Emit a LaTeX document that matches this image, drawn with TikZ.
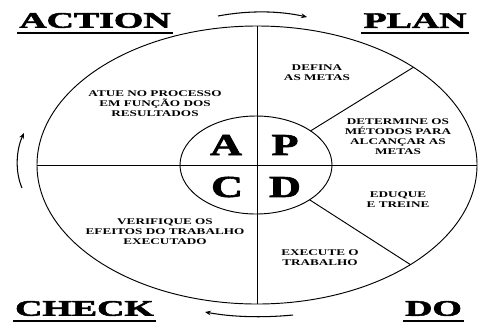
\documentclass[tikz,border=0pt]{standalone}
\usepackage{fontspec}
\setmainfont{Liberation Serif}
\newfontfamily\heavy[FakeBold=2]{Liberation Serif}
\usetikzlibrary{arrows.meta,shapes.geometric}

\begin{document}
\begin{tikzpicture}[x=0.03cm,y=-0.03cm,
  every node/.style={inner sep=0pt,outer sep=0pt},
  rim/.style={line width=0.8pt},
  title/.style={font=\heavy\bfseries\fontsize{19}{19}\selectfont,xscale=1.7},
  letter/.style={font=\heavy\bfseries\fontsize{26}{26}\selectfont,xscale=1.45},
  note/.style={font=\bfseries\fontsize{7.5}{8.5}\selectfont,align=center,xscale=1.5},
  uline/.style={line width=1.2pt},
  turn/.style={line width=0.9pt,-{Stealth[length=5pt,width=4pt]}}]
\useasboundingbox (0,0) rectangle (489,329);
% the wheel
\node[draw,rim,ellipse,minimum width=13.2cm,minimum height=8.34cm] (cycle) at (257,165) {};
\node[draw,rim,ellipse,minimum width=4.56cm,minimum height=2.94cm] (apcd) at (256,165) {};
\draw[rim] (cycle.north) -- (cycle.south);
\draw[rim] (cycle.west) -- (cycle.east);
\draw[rim] (apcd.32) -- (cycle.32);
\draw[rim] (apcd.-33) -- (cycle.-33);
% hub letters
\node[letter] (a) at (226,145) {A};
\node[letter] (p) at (285,145) {P};
\node[letter] (c) at (227,187) {C};
\node[letter] (d) at (285,187) {D};
% sectors
\node[note] (act) at (155,104) {ATUE NO PROCESSO\\EM FUNÇÃO DOS\\RESULTADOS};
\node[note] (goal) at (317,73) {DEFINA\\AS METAS};
\node[note] (meth) at (398,137) {DETERMINE OS\\MÉTODOS PARA\\ALCANÇAR AS\\METAS};
\node[note] (train) at (398,200) {EDUQUE\\E TREINE};
\node[note] (work) at (320,258) {EXECUTE O\\TRABALHO};
\node[note] (check) at (165,232) {VERIFIQUE OS\\EFEITOS DO TRABALHO\\EXECUTADO};
% corner titles
\node[title] (action) at (95,20.5) {ACTION};
\node[title] (plan) at (415,20.5) {PLAN};
\node[title] (chk) at (84.5,308.5) {CHECK};
\node[title] (do) at (433.5,308.5) {DO};
\foreach \t in {action,plan,chk,do}
  \draw[uline] ([xshift=-2pt,yshift=-4.5pt]\t.base west) -- ([xshift=2pt,yshift=-4.5pt]\t.base east);
% turning arrows
\draw[turn] (218,16) .. controls (250,10) and (280,11) .. (307,17);
\draw[turn] (293,315) .. controls (262,318) and (232,317) .. (205,312);
\draw[turn] (22,188) .. controls (15,172) and (16,150) .. (24,133);
\end{tikzpicture}
\end{document}
